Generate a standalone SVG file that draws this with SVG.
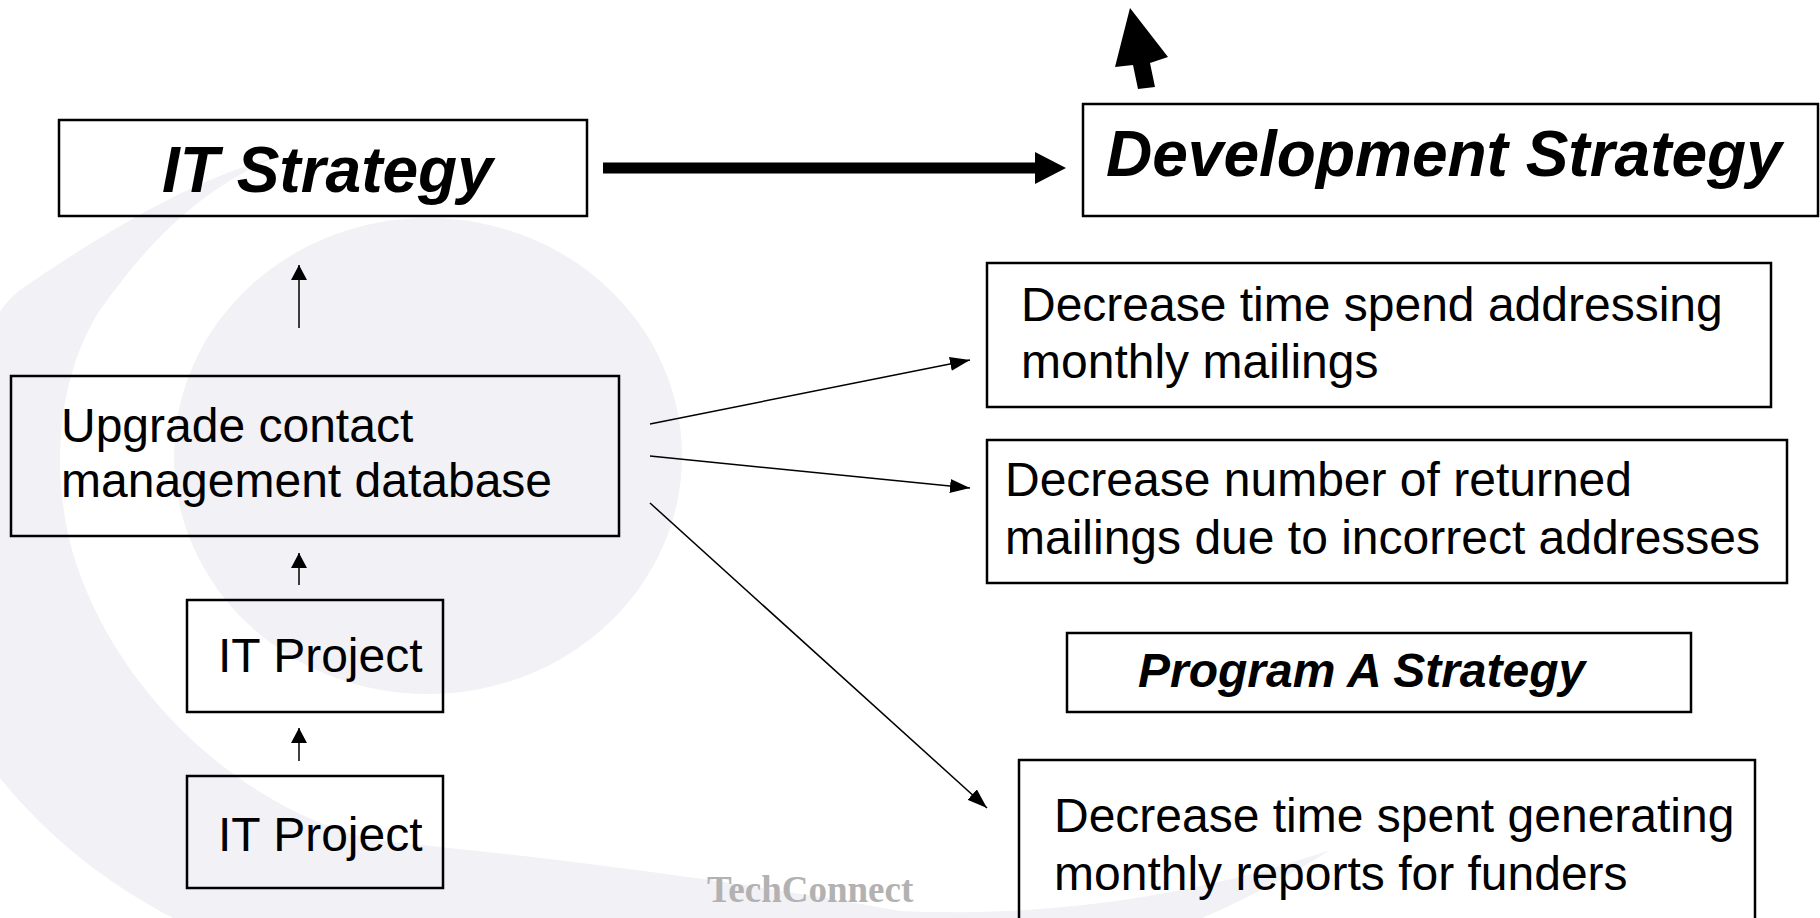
<svg xmlns="http://www.w3.org/2000/svg" width="1820" height="918" viewBox="0 0 1820 918">
<style>
.box{fill:none;stroke:#000;stroke-width:2.5}
.t{font-family:"Liberation Sans",Arial,sans-serif;font-size:48px;fill:#000}
.tb{font-family:"Liberation Sans",Arial,sans-serif;font-weight:bold;font-style:italic;fill:#000}
.ln{stroke:#000;stroke-width:1.5;fill:none}
.bg{fill:#f1f1f6}
</style>
<defs>
<marker id="ah" viewBox="0 0 20 14" refX="20" refY="7" markerWidth="20" markerHeight="14" markerUnits="userSpaceOnUse" orient="auto">
<path d="M0,0 L20,7 L0,14 z" fill="#000"/>
</marker>
<marker id="au" viewBox="0 0 15 16" refX="15" refY="8" markerWidth="15" markerHeight="16" markerUnits="userSpaceOnUse" orient="auto">
<path d="M0,0 L15,8 L0,16 z" fill="#000"/>
</marker>
</defs>
<rect width="1820" height="918" fill="#fff"/>
<g id="background">
<path class="bg" d="M275,157 C190,180 100,235 20,290 C-60,350 -80,650 0,778 C50,840 110,885 173,918 L173,960 L1050,960 C1150,950 1250,900 1330,850 C1200,895 1050,918 900,911 C760,885 560,858 380,841 C250,815 120,700 75,560 C50,480 55,380 100,310 C150,240 200,190 275,157 Z"/>
<ellipse class="bg" cx="428" cy="456" rx="254" ry="238"/>
</g>
<g id="connectors">
<line class="ln" x1="299" y1="328" x2="299" y2="265" marker-end="url(#au)"/>
<line class="ln" x1="299" y1="585" x2="299" y2="553" marker-end="url(#au)"/>
<line class="ln" x1="299" y1="761" x2="299" y2="728" marker-end="url(#au)"/>
<line class="ln" x1="650" y1="424" x2="970" y2="360" marker-end="url(#ah)"/>
<line class="ln" x1="650" y1="456" x2="970" y2="488" marker-end="url(#ah)"/>
<line class="ln" x1="650" y1="503" x2="987" y2="808" marker-end="url(#ah)"/>
<rect x="603" y="162.5" width="434" height="11" fill="#000"/>
<polygon points="1035,152 1066,168 1035,184" fill="#000"/>
<polygon points="1130,8 1168,57 1150,63 1155,87 1138,89 1133,65 1115,67" fill="#000"/>
</g>
<g id="it-strategy">
<rect class="box" x="59" y="120" width="528" height="96"/>
<text class="tb" x="162" y="192" font-size="64">IT Strategy</text>
</g>
<g id="development-strategy">
<rect class="box" x="1083" y="104" width="735" height="112"/>
<text class="tb" x="1106" y="176" font-size="64">Development Strategy</text>
</g>
<g id="upgrade-db">
<rect class="box" x="11" y="376" width="608" height="160"/>
<text class="t" x="61" y="442">Upgrade contact</text>
<text class="t" x="61" y="497">management database</text>
</g>
<g id="it-project-1">
<rect class="box" x="187" y="600" width="256" height="112"/>
<text class="t" x="218" y="672">IT Project</text>
</g>
<g id="it-project-2">
<rect class="box" x="187" y="776" width="256" height="112"/>
<text class="t" x="218" y="851">IT Project</text>
</g>
<g id="goal-addressing">
<rect class="box" x="987" y="263" width="784" height="144"/>
<text class="t" x="1021" y="321">Decrease time spend addressing</text>
<text class="t" x="1021" y="378">monthly mailings</text>
</g>
<g id="goal-returned">
<rect class="box" x="987" y="440" width="800" height="143"/>
<text class="t" x="1005" y="496">Decrease number of returned</text>
<text class="t" x="1005" y="554">mailings due to incorrect addresses</text>
</g>
<g id="program-a">
<rect class="box" x="1067" y="633" width="624" height="79"/>
<text class="tb" x="1138" y="687" font-size="48">Program A Strategy</text>
</g>
<g id="goal-reports">
<rect class="box" x="1019" y="760" width="736" height="170"/>
<text class="t" x="1054" y="832">Decrease time spent generating</text>
<text class="t" x="1054" y="890">monthly reports for funders</text>
</g>
<g id="footer">
<text x="707" y="902" font-family="'Liberation Serif','Times New Roman',serif" font-weight="bold" font-size="37" fill="#b2b2b2">TechConnect</text>
</g>
</svg>
